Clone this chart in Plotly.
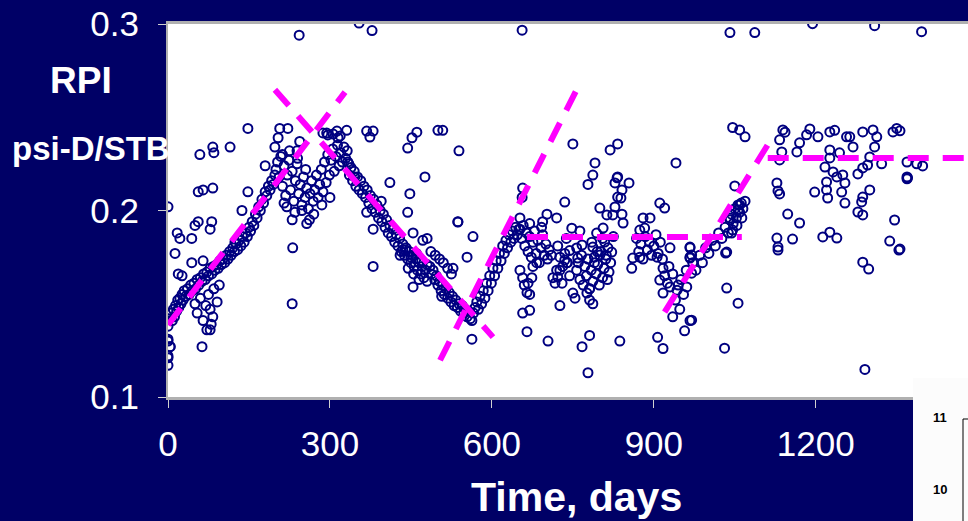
import plotly.graph_objects as go

# ---------------- data (days, RPI psi-D/STB) ----------------
rise_days = [0, 0, 0, 2, 4, 6, 8, 10, 12, 14, 16, 18, 20, 22, 24, 26, 28, 30, 33, 36, 39, 42, 45, 48, 51, 54, 57,
             60, 63, 66, 69, 72, 75, 78, 81, 84, 87, 90, 93, 96, 99, 102, 105, 108, 111, 114, 117, 120, 123, 126,
             129, 132, 135, 138, 141, 144, 147, 150, 153, 156, 159, 162, 165, 168, 171, 174, 177, 180, 183, 186,
             189, 192, 195, 198]
rise_rpi = [0.138, 0.131, 0.122, 0.142, 0.127, 0.145, 0.141, 0.147, 0.143, 0.149, 0.146, 0.152, 0.148, 0.153,
            0.150, 0.155, 0.152, 0.157, 0.154, 0.158, 0.155, 0.160, 0.157, 0.161, 0.158, 0.163, 0.160, 0.164,
            0.162, 0.166, 0.163, 0.167, 0.165, 0.169, 0.166, 0.170, 0.168, 0.171, 0.169, 0.173, 0.171, 0.174,
            0.172, 0.176, 0.174, 0.178, 0.176, 0.180, 0.178, 0.182, 0.179, 0.184, 0.181, 0.186, 0.183, 0.188,
            0.186, 0.191, 0.189, 0.194, 0.192, 0.198, 0.196, 0.202, 0.200, 0.206, 0.204, 0.210, 0.208, 0.213,
            0.211, 0.216, 0.214, 0.219]

rise_out_days = [54, 78, 91, 83, 72, 78, 63, 0, 0, 0, 4, 50, 60, 70, 75, 85, 95, 65, 80,
                 13, 17, 22, 44, 50, 56, 81, 78, 44, 65, 56, 65, 83, 59, 83, 85, 115, 0, 148, 137, 124,
                 148, 19, 26, 230, 220, 230, 257, 231, 207, 222, 198, 204, 244, 239, 180, 243]
rise_out_rpi = [0.145, 0.147, 0.151, 0.143, 0.136, 0.136, 0.127, 0.130, 0.121, 0.117, 0.127, 0.150, 0.153,
                0.149, 0.155, 0.158, 0.160, 0.141, 0.139,
                0.177, 0.188, 0.185, 0.185, 0.192, 0.194, 0.194, 0.190, 0.172, 0.173, 0.210, 0.211, 0.212,
                0.230, 0.234, 0.231, 0.234, 0.202, 0.210, 0.200, 0.183, 0.244, 0.166, 0.165, 0.150, 0.202,
                0.195, 0.193, 0.180, 0.244, 0.244, 0.234, 0.239, 0.237, 0.232, 0.224, 0.294]

peak_days = [200, 203, 206, 209, 212, 215, 218, 221, 224, 227, 230, 233, 236, 239, 242, 245, 248, 251, 254, 257,
             260, 263, 266, 269, 272, 275, 278, 281, 284, 287, 290, 293, 296, 299, 302, 305, 308, 311, 314, 317,
             320, 323, 326, 329, 332, 335, 212, 225, 240, 255, 270, 285, 300, 262, 248, 215, 235,
             294, 313, 331, 315, 368, 380, 374, 306, 319, 287, 296, 354, 378]
peak_rpi = [0.222, 0.226, 0.218, 0.229, 0.213, 0.224, 0.208, 0.219, 0.227, 0.211, 0.221, 0.205, 0.216, 0.225,
            0.209, 0.214, 0.203, 0.218, 0.207, 0.212, 0.201, 0.209, 0.216, 0.205, 0.211, 0.219, 0.207, 0.214,
            0.222, 0.210, 0.226, 0.215, 0.230, 0.219, 0.227, 0.233, 0.221, 0.229, 0.235, 0.224, 0.231, 0.226,
            0.234, 0.228, 0.232, 0.225, 0.230, 0.232, 0.228, 0.222, 0.198, 0.203, 0.207, 0.195, 0.200, 0.204,
            0.199, 0.2415, 0.2426, 0.243, 0.239, 0.2426, 0.2426, 0.2394, 0.241, 0.240, 0.2416, 0.2405,
            0.3005, 0.2965]

fall_days = [333, 336, 339, 342, 345, 348, 351, 354, 357, 360, 363, 366, 369, 372, 375, 378, 381, 384, 387, 390,
             393, 396, 399, 402, 405, 408, 411, 414, 417, 420, 423, 426, 429, 432, 435, 438, 441, 444, 447, 450,
             453, 456, 459, 462, 465, 468, 471, 474, 477, 480, 430, 440, 450, 460, 470, 480, 445, 455, 465,
             411, 476, 448, 444, 368, 380, 454, 472, 480, 435, 380, 454, 444, 452, 461, 500, 346, 395]
fall_rpi = [0.226, 0.219, 0.223, 0.216, 0.221, 0.213, 0.218, 0.211, 0.216, 0.209, 0.213, 0.207, 0.211, 0.204,
            0.208, 0.201, 0.206, 0.199, 0.203, 0.196, 0.200, 0.194, 0.198, 0.191, 0.195, 0.188, 0.192, 0.186,
            0.190, 0.183, 0.187, 0.181, 0.185, 0.178, 0.182, 0.176, 0.180, 0.174, 0.178, 0.172, 0.176, 0.170,
            0.174, 0.168, 0.172, 0.166, 0.170, 0.164, 0.168, 0.162, 0.176, 0.179, 0.175, 0.177, 0.173, 0.171,
            0.169, 0.166, 0.163, 0.215, 0.218, 0.209, 0.199, 0.199, 0.190, 0.188, 0.184, 0.185, 0.179, 0.170,
            0.159, 0.2335, 0.239, 0.242, 0.243, 0.218, 0.205]

trough_days = [485, 488, 491, 494, 497, 500, 503, 506, 509, 512, 515, 518, 521, 524, 527, 530, 533, 536, 539,
               542, 545, 548, 551, 554, 557, 560, 563, 566, 569, 572, 575, 578, 581, 584, 587, 590, 593, 596,
               599, 602, 605, 608, 611, 614, 617, 620, 623, 626, 629, 632, 635, 638, 641, 644, 647, 650,
               487, 495, 503, 510, 518, 525, 509, 539, 537, 565, 554, 528, 507, 563]
trough_rpi = [0.170, 0.166, 0.168, 0.163, 0.165, 0.160, 0.162, 0.157, 0.160, 0.155, 0.158, 0.153, 0.156, 0.151,
              0.154, 0.149, 0.152, 0.148, 0.150, 0.146, 0.149, 0.145, 0.147, 0.143, 0.146, 0.142, 0.141, 0.145,
              0.148, 0.151, 0.147, 0.154, 0.150, 0.157, 0.153, 0.161, 0.157, 0.165, 0.161, 0.169, 0.165, 0.173,
              0.169, 0.177, 0.173, 0.181, 0.177, 0.184, 0.180, 0.187, 0.183, 0.189, 0.185, 0.191, 0.187, 0.190,
              0.178, 0.176, 0.174, 0.172, 0.169, 0.166, 0.243, 0.232, 0.194, 0.186, 0.175, 0.169, 0.154, 0.131]

flat_days = [652, 655, 658, 661, 664, 667, 670, 673, 676, 679, 682, 685, 688, 691, 694, 697, 700, 703, 706,
             652, 670, 692, 694, 702, 720, 657, 656,
             652, 657, 660, 665, 667, 670, 674, 657, 670, 665, 676, 683,
             713, 717, 720, 726, 731, 735, 740, 744, 726, 704, 735, 748, 763, 710, 722, 738, 722, 730, 726, 739,
             757, 760, 763, 766, 769, 772, 775, 778, 781, 784, 787, 790, 793, 796, 799, 802, 805, 808, 811, 814,
             817, 820, 750, 754, 776, 781, 787, 781, 767, 781, 778, 837,
             832, 833, 854, 828, 841, 833, 839, 828, 841, 843, 824, 813, 800, 794, 806, 809, 822, 800, 787,
             791, 787, 778, 819, 833, 750, 785, 795, 805, 815, 825, 790, 812,
             735, 759, 757, 767, 537, 656, 744]
flat_rpi = [0.190, 0.185, 0.192, 0.181, 0.188, 0.178, 0.186, 0.175, 0.183, 0.189, 0.177, 0.184, 0.172, 0.180,
            0.187, 0.176, 0.182, 0.174, 0.179,
            0.196, 0.193, 0.191, 0.194, 0.198, 0.196, 0.212, 0.207,
            0.168, 0.164, 0.160, 0.156, 0.161, 0.155, 0.164, 0.145, 0.1465, 0.135, 0.170, 0.172,
            0.164, 0.161, 0.168, 0.175, 0.170, 0.177, 0.172, 0.165, 0.149, 0.130, 0.2045, 0.1905, 0.189,
            0.176, 0.181, 0.185, 0.1643, 0.161, 0.168, 0.172,
            0.168, 0.172, 0.163, 0.176, 0.160, 0.170, 0.165, 0.174, 0.158, 0.168, 0.162, 0.175, 0.166, 0.171,
            0.160, 0.178, 0.164, 0.169, 0.174, 0.163, 0.167, 0.172, 0.1557, 0.153, 0.1557, 0.152, 0.150, 0.158,
            0.127, 0.133, 0.113, 0.130,
            0.2175, 0.218, 0.2148, 0.2148, 0.211, 0.2072, 0.2067, 0.2019, 0.198, 0.1933, 0.1976, 0.1976,
            0.2013, 0.1879, 0.1906, 0.1831, 0.1777, 0.1761, 0.1804,
            0.2255, 0.219, 0.214, 0.2325, 0.2357, 0.2357, 0.183, 0.178, 0.185, 0.180, 0.186, 0.172, 0.176,
            0.1734, 0.1745, 0.1799, 0.1815, 0.1938, 0.2967, 0.1785]

late_days = [859, 861, 874, 906, 880, 893, 883, 874, 930, 967, 967, 911, 920, 941,
             868, 872, 876, 880, 884, 888, 892, 896, 900, 904, 908, 912, 916,
             917, 911, 917, 930, 943, 961, 970, 967, 935, 948, 967, 957, 907, 917,
             920, 925, 935, 940, 950, 955, 960, 945, 928,
             972, 978, 985, 990, 996, 1002, 1008, 1014, 1020, 1026, 1032, 1038, 1041, 1044, 1047, 1050, 1053,
             1056, 1059, 1062, 1065, 1069,
             1059, 1056, 1063, 1054, 1046, 1044, 1041, 1035, 1050, 967, 970, 1033, 1035, 1056, 1031, 970]
late_rpi = [0.169, 0.1745, 0.175, 0.175, 0.196, 0.196, 0.1906, 0.1895, 0.180, 0.180, 0.1745, 0.204, 0.2013,
            0.2255,
            0.185, 0.178, 0.182, 0.174, 0.186, 0.179, 0.183, 0.176, 0.181, 0.187, 0.177, 0.183, 0.174,
            0.169, 0.1627, 0.1557, 0.159, 0.1573, 0.159, 0.1664, 0.175, 0.143, 0.147, 0.141, 0.1355, 0.132,
            0.126,
            0.165, 0.161, 0.166, 0.152, 0.163, 0.155, 0.168, 0.160, 0.170,
            0.172, 0.168, 0.176, 0.172, 0.180, 0.177, 0.184, 0.181, 0.188, 0.185, 0.191, 0.188, 0.195, 0.198,
            0.193, 0.201, 0.196, 0.203, 0.199, 0.204, 0.201, 0.205,
            0.203, 0.2003, 0.196, 0.192, 0.1895, 0.1879, 0.196, 0.1777, 0.2132, 0.1804, 0.1761, 0.1772, 0.1584,
            0.1503, 0.1262, 0.1412]

final_days = [1069, 1059, 1046, 1133, 1139, 1170, 1183, 1204, 1226, 1257, 1263, 1269, 1287, 1306, 1313, 1309,
              1343, 1356, 1350, 1137, 1165, 1133, 1226, 1226, 1244,
              1217, 1232, 1239, 1250, 1254, 1220, 1220, 1222, 1198, 1248, 1254,
              1300, 1296, 1287, 1278, 1322, 1369, 1387, 1398, 1369, 1370, 1369,
              1300, 1287, 1285, 1278, 1287, 1346, 1337, 1356, 1226, 1213, 1239, 1148, 1170, 1157,
              1128, 1130, 1133, 1128, 1130, 1287, 1298, 1354, 1130, 1291,
              1041, 1087, 1194, 1309, 1396, 1143, 1189, 1235]
final_rpi = [0.2395, 0.2432, 0.2445, 0.2379, 0.2432, 0.2363, 0.2406, 0.2395, 0.2421, 0.2395, 0.2395, 0.2341,
             0.2421, 0.2432, 0.2395, 0.2341, 0.2421, 0.2427, 0.2440, 0.2314, 0.2314, 0.2271, 0.2325, 0.2282,
             0.2309,
             0.2233, 0.2207, 0.218, 0.2191, 0.2148, 0.2153, 0.211, 0.2067, 0.2099, 0.2099, 0.204,
             0.2287, 0.2244, 0.2228, 0.2196, 0.225, 0.226, 0.225, 0.2239, 0.218, 0.2175, 0.2170,
             0.211, 0.2072, 0.2046, 0.1992, 0.1976, 0.1949, 0.1836, 0.1793, 0.1884, 0.1858, 0.1852, 0.1981,
             0.1933, 0.1847,
             0.2148, 0.2105, 0.2089, 0.1852, 0.1804, 0.1723, 0.1686, 0.1788, 0.1788, 0.1148,
             0.2954, 0.2954, 0.3002, 0.2991, 0.2959, 0.2420, 0.2437, 0.2430]

# piecewise trend lines (start/end of each segment)
trend_days = [[0, 328], [198, 602], [504, 757], [665, 1063], [920, 1111], [1111, 1482]]
trend_rpi = [[0.1386, 0.2635], [0.2648, 0.1321], [0.1197, 0.2648], [0.1858, 0.1858],
             [0.1455, 0.2352], [0.2282, 0.2282]]

x_ticks = [0, 300, 600, 900, 1200]
y_ticks = [0.1, 0.2, 0.3]

# ---------------- figure ----------------
NAVY_BG = "#000066"
PT = "#000080"
MAG = "#FF00FF"
GREY = "#B0B0B0"
TICK = "#D0D0D0"
FONT = "Liberation Sans, Arial, sans-serif"

all_days = rise_days + rise_out_days + peak_days + fall_days + trough_days + flat_days + late_days + final_days
all_rpi = rise_rpi + rise_out_rpi + peak_rpi + fall_rpi + trough_rpi + flat_rpi + late_rpi + final_rpi

fig = go.Figure()
fig.add_trace(go.Scatter(
    x=all_days, y=all_rpi, mode="markers",
    marker=dict(symbol="circle-open", size=9, color=PT, line=dict(width=2, color=PT)),
    hoverinfo="skip", showlegend=False))

lx, ly = [], []
for d, r in zip(trend_days, trend_rpi):
    lx += d + [None]
    ly += r + [None]
fig.add_trace(go.Scatter(
    x=lx, y=ly, mode="lines", line=dict(color=MAG, width=6, dash="21px,14px"),
    hoverinfo="skip", showlegend=False, connectgaps=False))

W, H = 968, 521
L, R, T, B = 168, 0, 24, 124
pw, ph = W - L - R, H - T - B


def px(xp):
    return (xp - L) / pw


def py(yp):
    return (H - B - yp) / ph


fig.update_layout(
    width=W, height=H,
    margin=dict(l=L, r=R, t=T, b=B, pad=0),
    paper_bgcolor=NAVY_BG, plot_bgcolor="white",
    font=dict(family=FONT, color="white"),
    xaxis=dict(range=[0, 1482], tickvals=x_ticks, ticktext=[str(v) for v in x_ticks],
               showgrid=False, zeroline=False, showline=True, linecolor=GREY, linewidth=3,
               mirror=True, ticks="outside", ticklen=8, tickwidth=1, tickcolor=TICK,
               tickfont=dict(size=35, color="white", family=FONT), ticklabelstandoff=6),
    yaxis=dict(range=[0.1, 0.3], tickvals=y_ticks, ticktext=["0.1", "0.2", "0.3"],
               showgrid=False, zeroline=False, showline=True, linecolor=GREY, linewidth=2,
               ticks="outside", ticklen=8, tickwidth=1, tickcolor=TICK,
               tickfont=dict(size=35, color="white", family=FONT), ticklabelstandoff=12),
    annotations=[
        dict(text="<b>RPI</b>", xref="paper", yref="paper", x=px(81), y=py(80),
             xanchor="center", yanchor="middle", showarrow=False,
             font=dict(size=37, color="white", family=FONT)),
        dict(text="<b>psi-D/STB</b>", xref="paper", yref="paper", x=px(10), y=py(148),
             xanchor="left", yanchor="middle", showarrow=False,
             font=dict(size=33, color="white", family=FONT)),
        dict(text="<b>Time, days</b>", xref="paper", yref="paper", x=px(576), y=py(497),
             xanchor="center", yanchor="middle", showarrow=False,
             font=dict(size=41, color="white", family=FONT)),
        dict(text="<b>11</b>", xref="paper", yref="paper", x=px(940), y=py(417),
             xanchor="center", yanchor="middle", showarrow=False,
             font=dict(size=13, color="black", family=FONT)),
        dict(text="<b>10</b>", xref="paper", yref="paper", x=px(940), y=py(489),
             xanchor="center", yanchor="middle", showarrow=False,
             font=dict(size=13, color="black", family=FONT)),
    ],
    shapes=[
        dict(type="rect", xref="paper", yref="paper", x0=px(913), x1=px(980), y0=py(530), y1=py(378),
             fillcolor="#FCFCFC", line=dict(width=0), layer="above"),
        dict(type="rect", xref="paper", yref="paper", x0=px(963), x1=px(990), y0=py(540), y1=py(419),
             fillcolor="rgba(0,0,0,0)", line=dict(width=1, color="black"), layer="above"),
    ],
)

fig.write_html(
    "out.html",
    config={"displayModeBar": False},
    post_script="document.body.style.margin='0';document.body.style.overflow='hidden';"
                "document.body.style.background='" + NAVY_BG + "';",
)
